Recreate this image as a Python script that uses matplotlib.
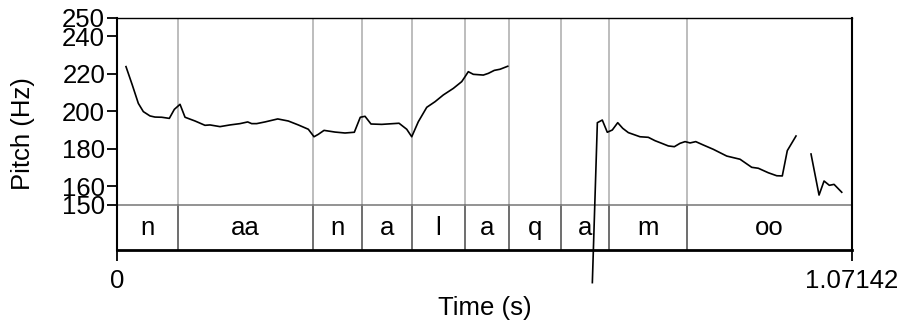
import matplotlib.pyplot as plt
import numpy as np

plt.rcParams['font.family'] = ['Liberation Sans', 'DejaVu Sans']

# Pitch contour, three voiced stretches
t1 = [0.0131, 0.0223, 0.0311, 0.0384, 0.0481, 0.0554, 0.0652, 0.0763, 0.0836, 0.0919,
      0.0992, 0.1138, 0.1283, 0.1356, 0.1502, 0.1648, 0.1794, 0.1906, 0.1964, 0.2037,
      0.2158, 0.2344, 0.2498, 0.2644, 0.2790, 0.2873, 0.2936, 0.3019, 0.3179, 0.3325,
      0.3461, 0.3548, 0.3617, 0.3704, 0.3860, 0.4113, 0.4225, 0.4298, 0.4394, 0.4517,
      0.4638, 0.4759, 0.4905, 0.5027, 0.5075, 0.5123, 0.5196, 0.5342, 0.5415, 0.5502,
      0.5586, 0.5698]
f1 = [223.8, 214.0, 204.2, 199.8, 197.5, 196.9, 196.8, 196.2, 201.0, 203.7,
      196.8, 194.8, 192.5, 192.7, 191.8, 192.7, 193.4, 194.3, 193.4, 193.4,
      194.3, 195.9, 194.8, 192.7, 190.4, 186.4, 187.7, 189.8, 188.9, 188.4,
      188.8, 196.8, 197.3, 193.2, 193.0, 193.6, 190.4, 186.4, 194.4, 202.1,
      205.1, 208.7, 212.2, 215.8, 218.4, 221.1, 219.7, 219.3, 220.2, 221.8,
      222.4, 224.0]

t2 = [0.6932, 0.7005, 0.7077, 0.7150, 0.7223, 0.7302, 0.7375, 0.7457, 0.7627, 0.7748,
      0.7846, 0.7944, 0.8040, 0.8128, 0.8211, 0.8284, 0.8357, 0.8440, 0.8550, 0.8696,
      0.8892, 0.9086, 0.9256, 0.9352, 0.9498, 0.9621, 0.9702, 0.9775, 0.9902]
f2 = [108.6, 193.9, 195.3, 188.8, 190.0, 193.9, 190.9, 188.6, 186.4, 186.1,
      184.3, 182.9, 181.5, 181.1, 182.9, 183.8, 183.1, 183.8, 182.0, 179.7,
      176.1, 174.4, 170.1, 169.6, 167.2, 165.6, 165.5, 179.0, 186.8]

t3 = [1.0121, 1.0238, 1.0311, 1.0388, 1.0457, 1.0569]
f3 = [177.2, 155.3, 162.8, 160.5, 161.0, 156.8]

# Segment tier
boundaries = [0.0894, 0.2854, 0.3569, 0.4298, 0.5080, 0.5721, 0.6471, 0.7175, 0.8313]
labels = ['n', 'aa', 'n', 'a', 'l', 'a', 'q', 'a', 'm', 'oo']

t_end = 1.07142
f_min, f_max = 150, 250
tier_bottom = 126
fs = 18.5

fig = plt.figure(figsize=(9.01, 3.24), dpi=100)
ax = fig.add_axes([117 / 901, 1 - 250 / 324, 734.7 / 901, 232.5 / 324])
ax.set_xlim(0, t_end)
ax.set_ylim(tier_bottom, f_max)

# boundaries: light in the pitch area, darker in the tier
for b in boundaries:
    ax.plot([b, b], [f_min, f_max], color='#b8b8b8', lw=1.3, zorder=1)
    ax.plot([b, b], [tier_bottom, f_min], color='#555555', lw=1.2, zorder=1)
ax.axhline(f_min, color='#808080', lw=1.2, zorder=1)

edges = [0] + boundaries + [t_end]
for i, lab in enumerate(labels):
    ax.text((edges[i] + edges[i + 1]) / 2, (tier_bottom + f_min) / 2 - 0.5, lab,
            ha='center', va='center', fontsize=fs)

for tt, ff in [(t1, f1), (t2, f2), (t3, f3)]:
    ax.plot(tt, ff, color='black', lw=1.2, clip_on=False, zorder=3)

ax.set_yticks([150, 160, 180, 200, 220, 240, 250])
ax.set_xticks([0, t_end])
ax.set_xticklabels(['0', '1.07142'])
ax.tick_params(axis='both', direction='out', length=7, width=1.3, labelsize=fs,
               pad=1.5, colors='black')
ax.tick_params(axis='x', length=8, pad=6)
ax.spines['top'].set_linewidth(1.0)
ax.spines['left'].set_linewidth(1.5)
ax.spines['right'].set_linewidth(1.5)
ax.spines['bottom'].set_linewidth(2.0)

ax.set_ylabel('Pitch (Hz)', fontsize=fs)
ax.yaxis.set_label_coords(-0.112, 0.5)
ax.set_xlabel('Time (s)', fontsize=fs, labelpad=2)

plt.savefig('out.png', dpi=100)
